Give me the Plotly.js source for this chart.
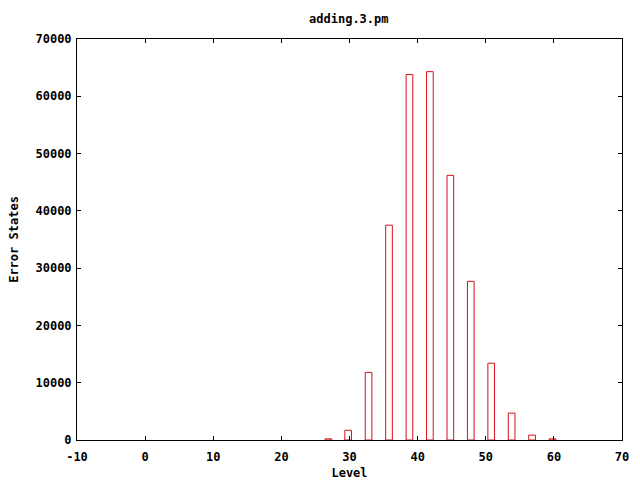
<!DOCTYPE html>
<html>
<head>
<meta charset="utf-8">
<script src="https://cdn.plot.ly/plotly-3.0.1.min.js"></script>
<style>html,body{margin:0;padding:0;background:#fff;}#chart{width:640px;height:480px;}</style>
</head>
<body>
<div id="chart"></div>
<script>
const levels = [26.9, 29.8, 32.8, 35.8, 38.8, 41.8, 44.8, 47.8, 50.8, 53.8, 56.8, 59.8];
const errorStates = [200, 1700, 11800, 37500, 63800, 64300, 46200, 27700, 13400, 4700, 850, 200];
const xTicks = [-10, 0, 10, 20, 30, 40, 50, 60, 70];
const yTicks = [0, 10000, 20000, 30000, 40000, 50000, 60000, 70000];

const font = {family: "DejaVu Sans Mono", size: 12, color: "#000", weight: "bold"};

Plotly.newPlot("chart", [{
  type: "bar",
  x: levels,
  y: errorStates,
  width: 0.98,
  marker: {color: "rgba(255,255,255,0)", line: {color: "#d8101c", width: 1}},
  hoverinfo: "none"
}], {
  width: 640, height: 480,
  margin: {l: 77, r: 18, t: 39, b: 40},
  paper_bgcolor: "#fff", plot_bgcolor: "#fff",
  showlegend: false,
  font: font,
  title: {text: "adding.3.pm", font: font, x: 0.545, xanchor: "center", y: 0.96, yanchor: "middle"},
  xaxis: {
    range: [-10, 70], tickvals: xTicks, ticktext: xTicks.map(String),
    ticks: "inside", ticklen: 4, tickcolor: "#000", tickwidth: 1,
    showline: true, linecolor: "#000", linewidth: 1, mirror: "ticks",
    showgrid: false, zeroline: false,
    tickfont: font, ticklabelstandoff: 6,
    title: {text: "Level", font: font, standoff: 10}
  },
  yaxis: {
    range: [0, 70000], tickvals: yTicks, ticktext: yTicks.map(String),
    ticks: "inside", ticklen: 4, tickcolor: "#000", tickwidth: 1,
    showline: true, linecolor: "#000", linewidth: 1, mirror: "ticks",
    showgrid: false, zeroline: false,
    tickfont: font, ticklabelstandoff: 2,
    title: {text: "Error States", font: font, standoff: 14}
  }
}, {staticPlot: true, displayModeBar: false});
</script>
</body>
</html>
